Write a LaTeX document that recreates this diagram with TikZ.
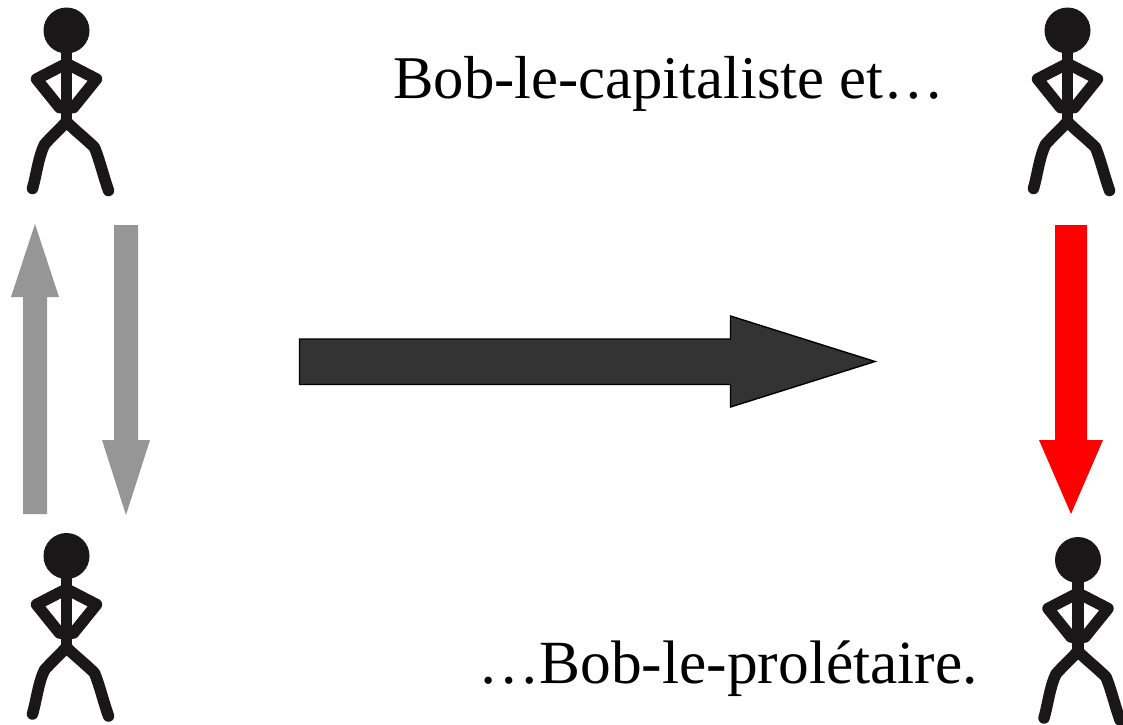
\documentclass[tikz,border=0pt]{standalone}
\usepackage{fontspec}
\setmainfont{Liberation Serif}
\definecolor{arrowgrey}{HTML}{969696}
\definecolor{bigdark}{HTML}{333333}
\definecolor{inkblack}{HTML}{1A1718}
\tikzset{
  limb/.style={draw=inkblack,line width=11.5pt,line join=round,line cap=round},
  greyarrow/.style={fill=arrowgrey,draw=none},
  redarrow/.style={fill=red,draw=none},
  bigarrow/.style={fill=bigdark,draw=black,line width=1.4pt,line join=miter},
  captiontop/.style={font=\fontsize{60.7}{61}\selectfont,text=black,inner sep=0pt,anchor=base west},
  captionbot/.style={font=\fontsize{61.4}{61}\selectfont,text=black,inner sep=0pt,anchor=base west},
  pics/bob/.style={code={
    \fill[inkblack] (0,-1) circle (23);
    \path[limb,line width=11.5pt,line cap=butt] (0,-1) -- (0,92);
    \path[limb] (0,32) -- (-30,47.5) -- (-7,76) -- (7,76) -- (30,47.5) -- cycle;
    \path[limb] (0,90) .. controls (-6,97) and (-16,106) .. (-22,113) .. controls (-28,125) and (-30,143) .. (-34,157);
    \path[limb] (0,90) .. controls (6,97) and (18,106) .. (28,116) .. controls (33,128) and (37,145) .. (42,159);
  }}
}
\begin{document}
\begin{tikzpicture}[x=1pt,y=-1pt]
\useasboundingbox (0,0) rectangle (1123,724);
\pic at (66.5,31.5) {bob};
\pic at (66.5,557) {bob};
\pic at (1067.5,31.5) {bob};
\pic at (1078,561) {bob};
\path[greyarrow] (23,514) -- (23,297) -- (11,297) -- (35,224) -- (59,297) -- (47,297) -- (47,514) -- cycle;
\path[greyarrow] (114,225) -- (138,225) -- (138,440) -- (150,440) -- (126,515) -- (102,440) -- (114,440) -- cycle;
\path[redarrow] (1055,225) -- (1087,225) -- (1087,440) -- (1103,440) -- (1071,514) -- (1039,440) -- (1055,440) -- cycle;
\path[bigarrow] (299.5,339) -- (730.5,339) -- (730.5,316) -- (875,361.5) -- (730.5,407) -- (730.5,384.5) -- (299.5,384.5) -- cycle;
\node[captiontop] (top) at (393,98) {Bob-le-capitaliste et…};
\node[captionbot] (bottom) at (478,683) {…Bob-le-prolétaire.};
\end{tikzpicture}
\end{document}
